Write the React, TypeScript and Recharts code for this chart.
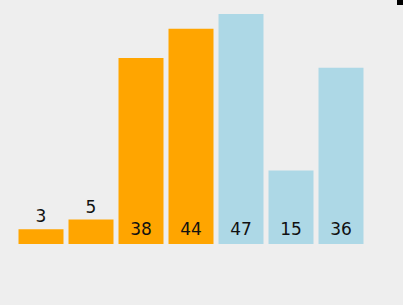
import { BarChart, Bar, XAxis, YAxis, Cell, LabelList } from 'recharts';

const categories = ['A', 'B', 'C', 'D', 'E', 'F', 'G'];
const values = [3, 5, 38, 44, 47, 15, 36];
const groups = ['orange', 'orange', 'orange', 'orange', 'blue', 'blue', 'blue'];

const COLORS: Record<string, string> = { orange: '#ffa500', blue: '#add8e6' };

const data = categories.map((name, i) => ({ name, value: values[i], group: groups[i] }));

// small bars get their label above, the rest sit inside at the bottom
function BarLabel(props: any) {
  const { x, y, width, height, value } = props;
  const cx = x + width / 2;
  const above = height < 30;
  return (
    <text
      x={cx}
      y={above ? y - 7 : y + height - 9}
      textAnchor="middle"
      fill="#111"
      fontSize={17}
      fontFamily="'DejaVu Sans', sans-serif"
    >
      {value}
    </text>
  );
}

export default function App() {
  return (
    <div style={{ position: 'absolute', left: 0, top: 0, width: 403, height: 305, background: '#eeeeee', overflow: 'hidden' }}>
      <BarChart
        width={403}
        height={305}
        data={data}
        margin={{ top: 14, right: 37.5, bottom: 61, left: 15.5 }}
      >
        <XAxis dataKey="name" hide />
        <YAxis hide domain={[0, 47]} />
        <Bar dataKey="value" barSize={45} isAnimationActive={false}>
          {data.map((d, i) => (
            <Cell key={i} fill={COLORS[d.group]} />
          ))}
          <LabelList dataKey="value" content={BarLabel} />
        </Bar>
      </BarChart>
      <div style={{ position: 'absolute', left: 397, top: 0, width: 6, height: 5, background: '#000' }} />
    </div>
  );
}
